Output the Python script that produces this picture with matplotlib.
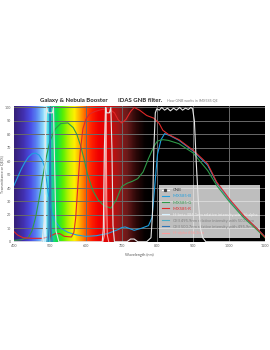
import numpy as np
import matplotlib
matplotlib.use('Agg')
import matplotlib.pyplot as plt
from matplotlib.colors import LinearSegmentedColormap
from matplotlib.lines import Line2D

# ---- data ----
wl_b = [400, 410, 420, 430, 440, 450, 460, 470, 478, 485, 490, 495, 500, 505, 515, 530, 550, 575,
        600, 630, 660, 690, 700, 710, 720, 735, 755, 775, 785, 792, 800, 810, 820, 835, 860, 900,
        940, 965, 1000, 1040, 1077, 1100]
qe_b = [42, 48, 54, 59, 63, 65.5, 66, 64.5, 61, 56, 47, 37, 29, 22, 15, 10, 7, 5,
        4, 4.5, 6, 9, 10.5, 11, 10, 8.5, 10, 12, 18, 40, 65, 76, 80.5, 79, 75.5, 67.5,
        57, 44, 31, 19, 10, 3.5]

wl_g = [400, 420, 440, 450, 460, 470, 480, 490, 500, 515, 530, 550, 565, 575, 585, 595, 605, 620,
        635, 650, 670, 685, 700, 715, 730, 745, 760, 775, 790, 800, 815, 830, 860, 900, 940, 965,
        1000, 1040, 1077, 1100]
qe_g = [1, 1.5, 3, 8, 18, 32, 48, 63, 75, 84, 88, 88.5, 85, 80, 72, 62, 50, 38,
        31, 27, 25, 31, 41, 43.5, 45, 47, 52, 62, 71, 75, 76, 75.5, 73, 66, 53, 42,
        30, 18, 9, 3]

wl_r = [400, 410, 425, 450, 480, 500, 515, 528, 540, 560, 567, 572, 578, 585, 592, 600, 610, 625,
        645, 665, 680, 690, 700, 712, 725, 735, 750, 770, 790, 805, 815, 830, 860, 900, 940, 965,
        1000, 1040, 1077, 1100]
qe_r = [7.5, 5, 3, 2.5, 2.5, 4, 6, 6, 4, 3.5, 7, 18, 42, 68, 84, 91, 95, 97,
        98.5, 99, 96, 91, 88.5, 91, 97, 100, 98, 94, 92, 88, 83, 80, 76, 68, 58, 44.5,
        32, 19.5, 10, 3.5]

wl_gnb = [400, 478, 484, 488, 491, 495, 502, 507, 510, 513, 517, 525, 640, 646, 649, 652, 655,
          658, 666, 670, 673, 676, 680, 690, 715, 725, 735, 745, 770, 782, 786, 790, 794, 798,
          805, 812, 820, 828, 836, 845, 853, 862, 870, 878, 886, 893, 898, 903, 908, 914, 920,
          926, 935, 1100]
tr_gnb = [0, 0, 15, 85, 100, 96, 96, 96, 100, 60, 8, 0, 0, 0, 10, 70, 100,
          96, 96, 100, 70, 12, 0, 0, 0, 2, 2, 0, 0, 3, 20, 70, 96, 99,
          98, 100, 98, 99.5, 97.5, 99.5, 98, 100, 98, 99.5, 98.5, 100, 99, 90, 60, 30, 10,
          3, 0, 0]

wl_hb = [482, 484.5, 485.5, 486.1, 486.7, 487.7, 490]
int_hb = [0, 6, 22, 35, 22, 6, 0]
wl_o1 = [491, 494, 495.2, 495.9, 496.6, 498, 501]
int_o1 = [0, 5, 20, 33, 20, 5, 0]
wl_o2 = [495, 498, 499.5, 500.7, 502, 503.5, 506]
int_o2 = [0, 10, 60, 100, 60, 10, 0]
wl_ha = [648, 652, 654, 655.5, 656.3, 657, 658.5, 660, 664]
int_ha = [0, 5, 30, 85, 100, 85, 30, 5, 0]

xticks = [400, 500, 600, 700, 800, 900, 1000, 1100]
yticks = list(range(0, 101, 10))

# background spectrum colours
spec_stops = [(400, '#35207a'), (425, '#4230b0'), (445, '#4b4fe6'), (462, '#5a86f4'),
              (478, '#86d2fb'), (486, '#c8f4ff'), (494, '#3fd6e4'), (505, '#1ccf9c'),
              (518, '#0ee04a'), (535, '#55ef05'), (552, '#c2f200'), (568, '#fff000'),
              (582, '#ffb000'), (598, '#ff6000'), (615, '#ff2200'), (635, '#f00000'),
              (665, '#d80808'), (690, '#a01818'), (715, '#6a1a1a'), (740, '#2c0808'),
              (765, '#050000'), (780, '#000000'), (1100, '#000000')]

plt.rcParams['font.family'] = ['Lato', 'DejaVu Sans']

fig = plt.figure(figsize=(2.7, 3.5), dpi=100)
ax = fig.add_axes([0.052, 0.3094, 0.9296, 0.3874])

cmap = LinearSegmentedColormap.from_list('spec', [((w - 400) / 700, c) for w, c in spec_stops])
ax.imshow(np.linspace(0, 1, 701)[None, :], cmap=cmap, aspect='auto',
          extent=[400, 1100, 0, 101], zorder=0)

for v in yticks:
    ax.axhline(v, color='#6a6a6a', lw=0.7, zorder=1)
for w in xticks[1:-1]:
    ax.axvline(w, color='#6a6a6a', lw=0.7, zorder=1)

c_b, c_g, c_r = '#1e9fe0', '#2e9a48', '#e02828'
c_hb, c_o1, c_o2, c_ha = '#d9f2ff', '#4bacc6', '#2e75b6', '#ff9b9b'

ax.plot(wl_b, qe_b, color=c_b, lw=0.8, zorder=3)
ax.plot(wl_g, qe_g, color=c_g, lw=0.8, zorder=3)
ax.plot(wl_r, qe_r, color=c_r, lw=0.8, zorder=3)
ax.plot(wl_hb, int_hb, color=c_hb, lw=0.8, zorder=3)
ax.plot(wl_o1, int_o1, color=c_o1, lw=0.8, zorder=3)
ax.plot(wl_o2, int_o2, color=c_o2, lw=0.8, zorder=3)
ax.plot(wl_ha, int_ha, color=c_ha, lw=0.8, zorder=3)
ax.plot(wl_gnb, tr_gnb, color='#e6e6e6', lw=0.8, zorder=4)

ax.set_xlim(400, 1100)
ax.set_ylim(0, 101)
ax.set_xticks(xticks)
ax.set_yticks(yticks)
ax.tick_params(length=0, labelsize=2.6, colors='#595959', pad=2)
for s in ax.spines.values():
    s.set_visible(False)
ax.set_xlabel('Wavelength (nm)', fontsize=2.8, color='#595959', labelpad=3)
ax.set_ylabel('Transmittance or QE(%)', fontsize=2.6, color='#595959')
ax.yaxis.set_label_coords(-0.038, 0.5)

handles = [
    Line2D([], [], color='white', lw=0.8, marker='s', markersize=1.3, mfc='#404040', mec='#404040'),
    Line2D([], [], color=c_b, lw=0.8),
    Line2D([], [], color=c_g, lw=0.8),
    Line2D([], [], color=c_r, lw=0.8),
    Line2D([], [], color=c_hb, lw=0.8),
    Line2D([], [], color=c_o1, lw=0.8),
    Line2D([], [], color=c_o2, lw=0.8),
    Line2D([], [], color=c_ha, lw=0.8),
]
labels = ['GNB', 'IMX585-B', 'IMX585-G', 'IMX585-R',
          'H-beta 486.1nm relative intensity with H-alpha',
          'OIII 495.9nm relative intensity with 500.7nm',
          'OIII 500.7nm relative intensity with 495.9nm',
          'H-alpha 656.3nm']
leg = ax.legend(handles, labels, loc='upper left', bbox_to_anchor=(0.57, 0.43),
                fontsize=3.0, frameon=True, fancybox=False, handlelength=1.6,
                labelspacing=0.5, borderpad=0.7, handletextpad=1.0)
leg.get_frame().set_facecolor('white')
leg.get_frame().set_alpha(0.75)
leg.get_frame().set_edgecolor('none')
leg.set_zorder(2)
for t, c in zip(leg.get_texts(), ['#404040', c_b, c_g, c_r, '#f2f2f2', '#7f7f7f', '#7f7f7f', c_ha]):
    t.set_color(c)

fig.text(0.148, 0.714, 'Galaxy & Nebula Booster', fontsize=4.3, fontweight='bold',
         color='#262626', va='center')
fig.text(0.437, 0.714, 'IDAS GNB filter.', fontsize=4.3, fontweight='bold',
         color='#262626', va='center')
fig.text(0.619, 0.712, 'How GNB works in IMX585 QE', fontsize=2.6, color='#7f7f7f', va='center')

fig.savefig('out.png', dpi=100)
